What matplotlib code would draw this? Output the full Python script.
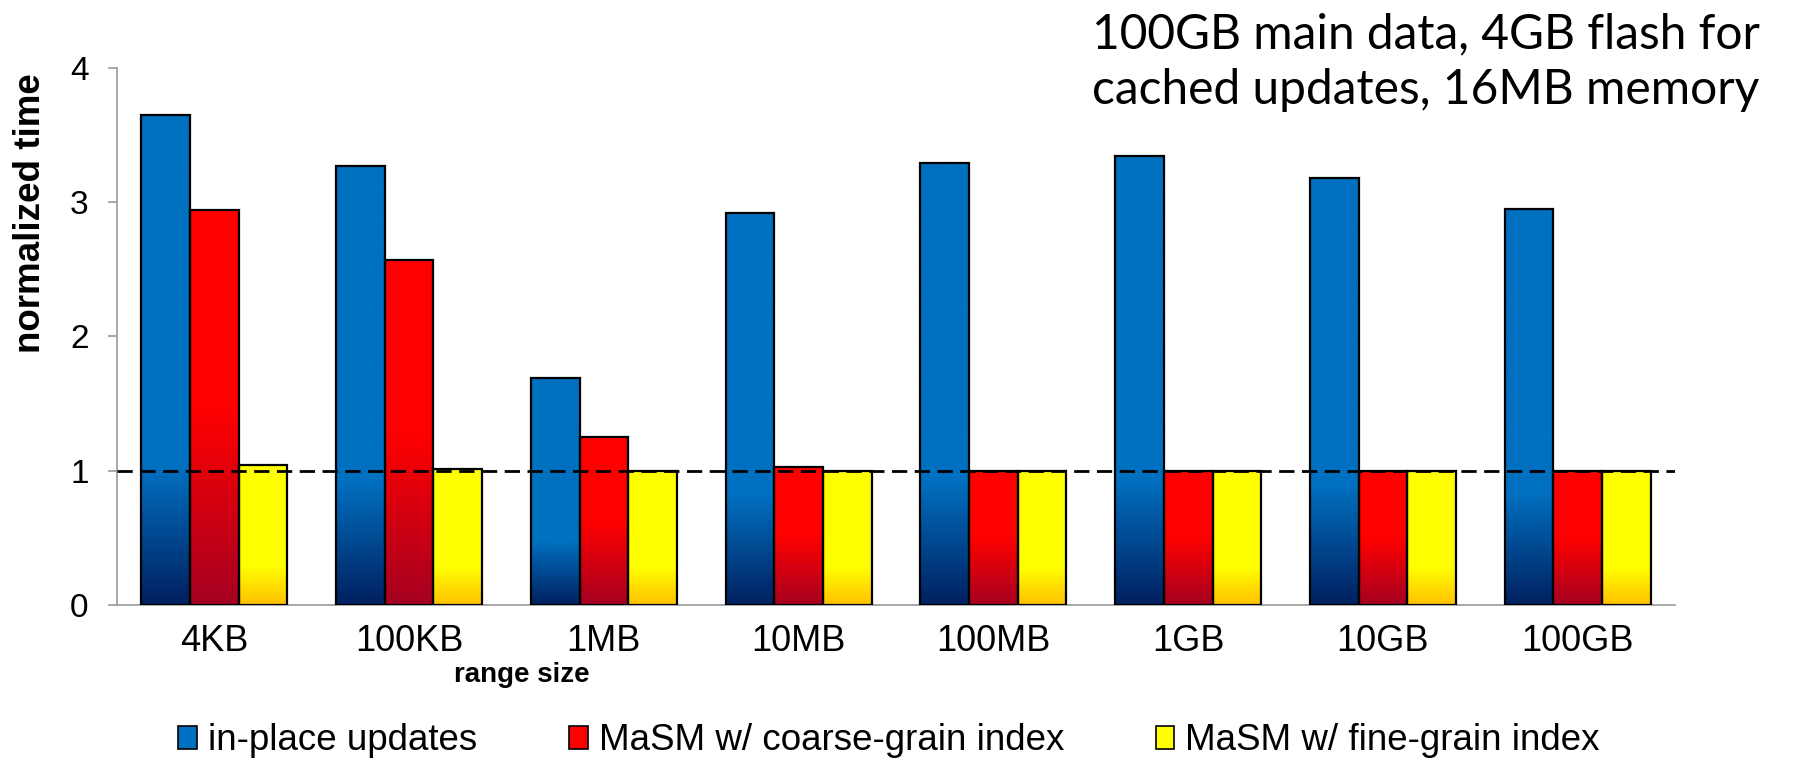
import numpy as np
import matplotlib
matplotlib.use('Agg')
import matplotlib.pyplot as plt
from matplotlib.colors import to_rgb
from matplotlib.patches import Patch

# Tamaños de rango y tiempos normalizados de cada variante
range_sizes = ['4KB', '100KB', '1MB', '10MB', '100MB', '1GB', '10GB', '100GB']
in_place = [3.65, 3.27, 1.69, 2.92, 3.29, 3.34, 3.18, 2.95]
coarse_grain = [2.94, 2.57, 1.25, 1.03, 1.00, 1.00, 1.00, 1.00]
fine_grain = [1.04, 1.01, 1.00, 1.00, 1.00, 1.00, 1.00, 1.00]
series_names = ['in-place updates', 'MaSM w/ coarse-grain index', 'MaSM w/ fine-grain index']
note_lines = ['100GB main data, 4GB flash for', 'cached updates, 16MB memory']

# (color arriba, color abajo, fracción de la barra con degradado)
styles = [('#0070C0', '#002060', 0.28),
          ('#FF0000', '#A50021', 0.50),
          ('#FFFF00', '#FFC000', 0.28)]

plt.rcParams['font.family'] = ['Liberation Sans', 'DejaVu Sans']


def gradient_image(top, bottom, frac, n=256):
    # columna de colores: oscuro abajo, color pleno a partir de frac
    t = np.linspace(0, 1, n)
    w = np.clip(t / frac, 0, 1)[:, None]
    c = np.array(to_rgb(bottom)) * (1 - w) + np.array(to_rgb(top)) * w
    return c[:, None, :]


fig = plt.figure(figsize=(18, 7.61), dpi=100)
ax = fig.add_axes([0.065, 0.205, 0.8656, 0.706])

x = np.arange(len(range_sizes))
width = 0.25
for i, (vals, (top, bottom, frac)) in enumerate(zip([in_place, coarse_grain, fine_grain], styles)):
    bars = ax.bar(x + (i - 1) * width, vals, width, facecolor='none',
                  edgecolor='black', linewidth=1.6, zorder=3)
    img = gradient_image(top, bottom, frac)
    for b in bars:
        x0, w, h = b.get_x(), b.get_width(), b.get_height()
        ax.imshow(img, extent=(x0, x0 + w, 0, h), origin='lower',
                  aspect='auto', zorder=2, interpolation='bilinear')

# línea de referencia en 1
ax.axhline(1, color='black', linewidth=2, dashes=(5.5, 2.7), zorder=4)

ax.set_xlim(-0.5, len(range_sizes) - 0.5)
ax.set_ylim(0, 4)
ax.set_yticks([0, 1, 2, 3, 4])
ax.set_xticks(x)
ax.set_xticklabels(range_sizes)

for side in ['top', 'right']:
    ax.spines[side].set_visible(False)
for side in ['left', 'bottom']:
    ax.spines[side].set_color('#999999')
    ax.spines[side].set_linewidth(1.2)

ax.tick_params(axis='y', labelsize=24, length=6.5, width=1.2, color='#999999', pad=14)
ax.tick_params(axis='x', labelsize=26, length=0, pad=14)

fig.text(31 / 1800, 1 - 213 / 761, 'normalized time', rotation=90, fontsize=26.5,
         fontweight='bold', ha='center', va='center')
fig.text(522 / 1800, 1 - 675 / 761, 'range size', fontsize=20,
         fontweight='bold', ha='center', va='center')

for k, line in enumerate(note_lines):
    fig.text(1092 / 1800, 1 - (34 + 56 * k) / 761, line, family=['Lato', 'DejaVu Sans'],
             fontsize=34.5, ha='left', va='center')

handles = [Patch(facecolor=s[0], edgecolor='black', linewidth=1.2) for s in styles]
fig.legend(handles, series_names, loc='center', bbox_to_anchor=(0.494, 1 - 741 / 761),
           ncol=3, frameon=False, fontsize=26.5, handlelength=0.5, handleheight=0.55,
           handletextpad=0.3, columnspacing=2.5, borderpad=0, borderaxespad=0)

fig.savefig('out.png', dpi=100)
